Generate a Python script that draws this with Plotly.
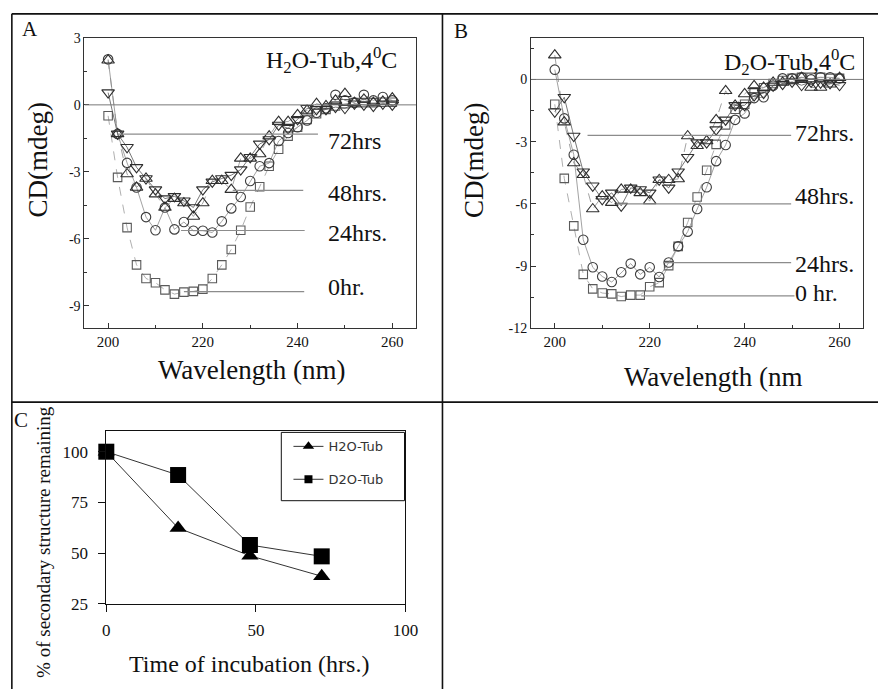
import plotly.graph_objects as go

# ---------------- data ----------------
wavelength = list(range(200, 261, 2))

A_0hr = [-0.49, -3.25, -5.5, -7.17, -7.78, -7.97, -8.29, -8.48, -8.39, -8.36, -8.26, -7.78, -7.17, -6.48, -5.62, -4.58,
         -3.67, -2.75, -1.99, -1.4, -1.0, -0.65, -0.4, -0.2, -0.05, 0.05, 0.1, 0.1, 0.1, 0.12, 0.12]
A_24hr = [2.04, -1.3, -2.6, -3.7, -5.03, -5.62, -4.6, -5.58, -5.25, -5.64, -5.64, -5.72, -5.22, -4.64, -4.13, -3.41,
          -2.75, -2.61, -1.62, -1.26, -1.0, -0.7, -0.35, -0.15, 0.45, 0.2, 0.1, 0.45, 0.2, 0.35, 0.2]
A_48hr = [2.0, -1.3, -3.1, -3.7, -3.3, -4.0, -4.6, -4.2, -4.4, -5.0, -4.4, -3.4, -3.4, -3.8, -2.4, -2.4,
          -2.2, -1.4, -0.75, -0.75, -0.45, -0.25, 0.05, -0.05, 0.2, 0.5, 0.1, 0.25, 0.1, 0.15, 0.3]
A_72hr = [0.55, -1.3, -1.9, -2.8, -3.3, -3.8, -4.2, -4.1, -4.3, -4.6, -3.8, -3.45, -3.3, -3.15, -2.9, -2.35,
          -1.75, -1.55, -0.9, -1.05, -0.65, -0.15, -0.2, -0.2, -0.1, -0.15, 0.05, 0.0, -0.05, 0.05, 0.0]

B_0hr = [-1.2, -4.77, -7.06, -9.4, -10.1, -10.3, -10.34, -10.47, -10.4, -10.4, -10.0, -9.8, -8.98, -8.05, -6.9, -5.67,
         -4.38, -3.13, -2.19, -1.44, -1.2, -0.6, -0.4, -0.2, -0.05, 0.05, 0.1, 0.1, 0.1, 0.05, 0.05]
B_24hr = [0.47, -1.88, -3.63, -7.73, -9.06, -9.5, -9.77, -9.3, -8.88, -9.4, -9.06, -9.53, -8.83, -8.05, -7.34, -6.25,
          -5.2, -3.94, -3.16, -1.95, -1.64, -0.9, -0.86, -0.3, 0.05, 0.05, 0.1, 0.0, 0.1, 0.1, 0.05]
B_48hr = [1.17, -2.06, -4.03, -4.6, -6.25, -5.63, -5.94, -5.3, -5.3, -5.47, -5.86, -4.84, -4.84, -4.8, -2.73, -3.2,
          -2.97, -1.95, -0.55, -1.25, -0.7, -0.31, -0.39, -0.15, -0.15, -0.08, 0.08, -0.39, -0.39, -0.23, 0.08]
B_72hr = [-1.56, -0.86, -2.73, -4.45, -5.13, -5.78, -5.47, -6.1, -5.23, -5.31, -5.47, -4.84, -5.23, -4.45, -3.75, -3.05,
          -3.05, -2.42, -1.95, -1.25, -1.25, -0.78, -0.66, -0.31, -0.23, -0.12, -0.28, -0.12, -0.16, -0.19, -0.28]

# leader lines / labels (minimum CD levels for each incubation time)
A_labels = ["72hrs", "48hrs.", "24hrs.", "0hr."]
A_levels = [-1.31, -3.83, -5.63, -8.37]
A_line_from = [202, 226.3, 215.4, 216]
A_line_to = [244.3, 241.2, 241.5, 241.4]
A_label_y = [-1.64, -3.95, -5.73, -8.17]

B_labels = ["72hrs.", "48hrs.", "24hrs.", "0 hr."]
B_levels = [-2.7, -6.0, -8.83, -10.44]
B_line_from = [206.9, 213, 223, 218.2]
B_line_to = [249.8, 249.8, 249.8, 250.5]
B_label_y = [-2.56, -5.61, -8.89, -10.31]

time_hrs = [0, 24, 48, 72]
H2O_Tub = [100, 62.4, 48.7, 38.6]
D2O_Tub = [100, 88.5, 54.0, 48.4]

# ---------------- styling ----------------
W, H = 891, 699
SERIF = "'Liberation Serif', 'Times New Roman', Times, serif"
SANS = "'DejaVu Sans', Arial, sans-serif"


def px(x):
    return x / W


def py(y):
    return 1 - y / H


fig = go.Figure()

series_style = [
    # (marker symbol, size, marker colour, line dash, line colour)
    ("square-open", 8.5, "#5a5a5a", "dash", "#9a9a9a"),
    ("circle-open", 9.5, "#3c3c3c", "solid", "#8a8a8a"),
    ("triangle-up-open", 11, "#2e2e2e", "dash", "#8a8a8a"),
    ("triangle-down-open", 11, "#2e2e2e", "solid", "#555555"),
]

for (xa, ya, series) in [("x", "y", [A_0hr, A_24hr, A_48hr, A_72hr]),
                         ("x2", "y2", [B_0hr, B_24hr, B_48hr, B_72hr])]:
    for vals, (sym, sz, mc, dash, lc) in zip(series, series_style):
        fig.add_trace(go.Scatter(
            x=wavelength, y=vals, xaxis=xa, yaxis=ya, mode="lines+markers",
            line=dict(color=lc, width=0.8, dash=dash),
            marker=dict(symbol=sym, size=sz, color=mc, line=dict(width=1.1, color=mc)),
            showlegend=False, cliponaxis=False, hoverinfo="skip"))

# leader lines
for xa, ya, lv, x0s, x1s in [("x", "y", A_levels, A_line_from, A_line_to),
                             ("x2", "y2", B_levels, B_line_from, B_line_to)]:
    for lvl, x0, x1 in zip(lv, x0s, x1s):
        fig.add_trace(go.Scatter(x=[x0, x1], y=[lvl, lvl], xaxis=xa, yaxis=ya, mode="lines",
                                 line=dict(color="#8c8c8c", width=1.2), showlegend=False,
                                 hoverinfo="skip"))

# panel C
fig.add_trace(go.Scatter(x=time_hrs, y=H2O_Tub, xaxis="x3", yaxis="y3", mode="lines+markers",
                         line=dict(color="#333", width=1),
                         marker=dict(symbol="triangle-up", size=15, color="black"),
                         showlegend=False, cliponaxis=False))
fig.add_trace(go.Scatter(x=time_hrs, y=D2O_Tub, xaxis="x3", yaxis="y3", mode="lines+markers",
                         line=dict(color="#333", width=1),
                         marker=dict(symbol="square", size=16, color="black"),
                         showlegend=False, cliponaxis=False))
# legend entries
fig.add_trace(go.Scatter(x=[None], y=[None], xaxis="x3", yaxis="y3", mode="lines+markers", name="H2O-Tub",
                         line=dict(color="#333", width=1), legendgroup="h",
                         marker=dict(symbol="triangle-up", size=10, color="black")))
fig.add_trace(go.Scatter(x=[None], y=[None], xaxis="x3", yaxis="y3", mode="lines+markers", name="D2O-Tub",
                         line=dict(color="#333", width=1), legendgroup="d",
                         marker=dict(symbol="square", size=8, color="black")))

axis_line = dict(showline=True, linecolor="#333", linewidth=1, mirror=True, showgrid=False,
                 zeroline=False, ticks="inside", tickcolor="#333", ticklen=5)

fig.update_layout(
    width=W, height=H, margin=dict(l=0, r=0, t=0, b=0),
    paper_bgcolor="white", plot_bgcolor="white",
    font=dict(family=SERIF, color="#111"),
    xaxis=dict(domain=[px(82), px(420)], anchor="y", range=[195, 265],
               tickmode="array", tickvals=[200, 220, 240, 260],
               minor=dict(tickmode="array", tickvals=[210, 230, 250], ticks="inside", ticklen=3, tickcolor="#333"),
               tickfont=dict(size=15, family=SERIF), **axis_line),
    yaxis=dict(domain=[py(329), py(31.7)], anchor="x", range=[-10, 3],
               tickmode="array", tickvals=[3, 0, -3, -6, -9], ticktext=["3", "0", "-3", "-6", "-9"],
               minor=dict(tickmode="array", tickvals=[1.5, -1.5, -4.5, -7.5], ticks="inside", ticklen=3,
                          tickcolor="#333"),
               tickfont=dict(size=14, family=SERIF), **axis_line),
    xaxis2=dict(domain=[px(537.3), px(876)], anchor="y2", range=[195, 265],
                tickmode="array", tickvals=[200, 220, 240, 260],
                minor=dict(tickmode="array", tickvals=[210, 230, 250], ticks="inside", ticklen=3, tickcolor="#333"),
                tickfont=dict(size=15, family=SERIF), **axis_line),
    yaxis2=dict(domain=[py(329.3), py(31.7)], anchor="x2", range=[-12, 2],
                tickmode="array", tickvals=[0, -3, -6, -9, -12], ticktext=["0", "-3", "-6", "-9", "-12"],
                minor=dict(tickmode="array", tickvals=[1.5, -1.5, -4.5, -7.5, -10.5], ticks="inside", ticklen=3,
                           tickcolor="#333"),
                tickfont=dict(size=14, family=SERIF), **axis_line),
    xaxis3=dict(domain=[px(104.3), px(409.3)], anchor="y3", range=[0, 100],
                tickmode="array", tickvals=[0, 50, 100], showline=True, linecolor="#111", linewidth=1,
                mirror=True, showgrid=False, zeroline=False, ticks="outside", ticklen=7, tickcolor="#111",
                ticklabelstandoff=4, tickfont=dict(size=17, family=SERIF)),
    yaxis3=dict(domain=[py(611.7), py(435)], anchor="x3", range=[25, 110],
                tickmode="array", tickvals=[25, 50, 75, 100], showline=True, linecolor="#111", linewidth=1,
                mirror=True, showgrid=False, zeroline=False, ticks="outside", ticklen=7, tickcolor="#111",
                ticklabelstandoff=7, tickfont=dict(size=17, family=SERIF)),
    legend=dict(x=px(290), y=py(435), xanchor="left", yanchor="top", bgcolor="rgba(0,0,0,0)",
                borderwidth=0, font=dict(family=SANS, size=13, color="#333"), tracegroupgap=13,
                itemwidth=30),
    showlegend=True,
)

shapes = []
# zero lines
shapes.append(dict(type="line", xref="x", yref="y", x0=195, x1=265, y0=0, y1=0,
                   line=dict(color="#777", width=1)))
shapes.append(dict(type="line", xref="x2", yref="y2", x0=195, x1=265, y0=0, y1=0,
                   line=dict(color="#777", width=1)))
# legend box for C
shapes.append(dict(type="rect", xref="paper", yref="paper", x0=px(282.7), x1=px(408.3), y0=py(506), y1=py(436),
                   line=dict(color="#111", width=1)))
# table grid
for (x0, y0, x1, y1) in [(8, 7, 891, 7), (8, 7, 8, 699), (447, 7, 447, 699), (8, 405, 891, 405)]:
    shapes.append(dict(type="line", xref="paper", yref="paper", x0=px(x0), x1=px(x1), y0=py(y0), y1=py(y1),
                       line=dict(color="#111", width=1.6)))
fig.update_layout(shapes=shapes)

ann = []


def text(x, y, s, size, xanchor="center", yanchor="middle", angle=0, xref="paper", yref="paper", family=SERIF):
    ann.append(dict(x=x, y=y, xref=xref, yref=yref, text=s, showarrow=False, xanchor=xanchor,
                    yanchor=yanchor, textangle=angle, borderpad=0,
                    font=dict(size=size, family=family, color="#111")))


text(px(27), py(23), "A", 21)
text(px(466), py(25), "B", 21)
text(px(17), py(423), "C", 21)
text(px(402), py(36), "H<sub>2</sub>O-Tub,4<sup>0</sup>C", 24, xanchor="right", yanchor="top")
text(px(869), py(38), "D<sub>2</sub>O-Tub,4<sup>0</sup>C", 24, xanchor="right", yanchor="top")
text(px(253), py(372.5), "Wavelength (nm)", 27)
text(px(723), py(379), "Wavelength (nm", 27)
text(px(35), py(157), "CD(mdeg)", 27, angle=-90)
text(px(479), py(157), "CD(mdeg)", 27, angle=-90)
text(px(40), py(548), "% of secondary structure remaining", 19, angle=-90)
text(px(250), py(673), "Time of incubation (hrs.)", 24)
for lab, ly in zip(A_labels, A_label_y):
    text(246.2, ly, lab, 24, xanchor="left", xref="x", yref="y")
for lab, ly in zip(B_labels, B_label_y):
    text(250.4, ly, lab, 24, xanchor="left", xref="x2", yref="y2")
fig.update_layout(annotations=ann)

fig.write_html("out.html")
